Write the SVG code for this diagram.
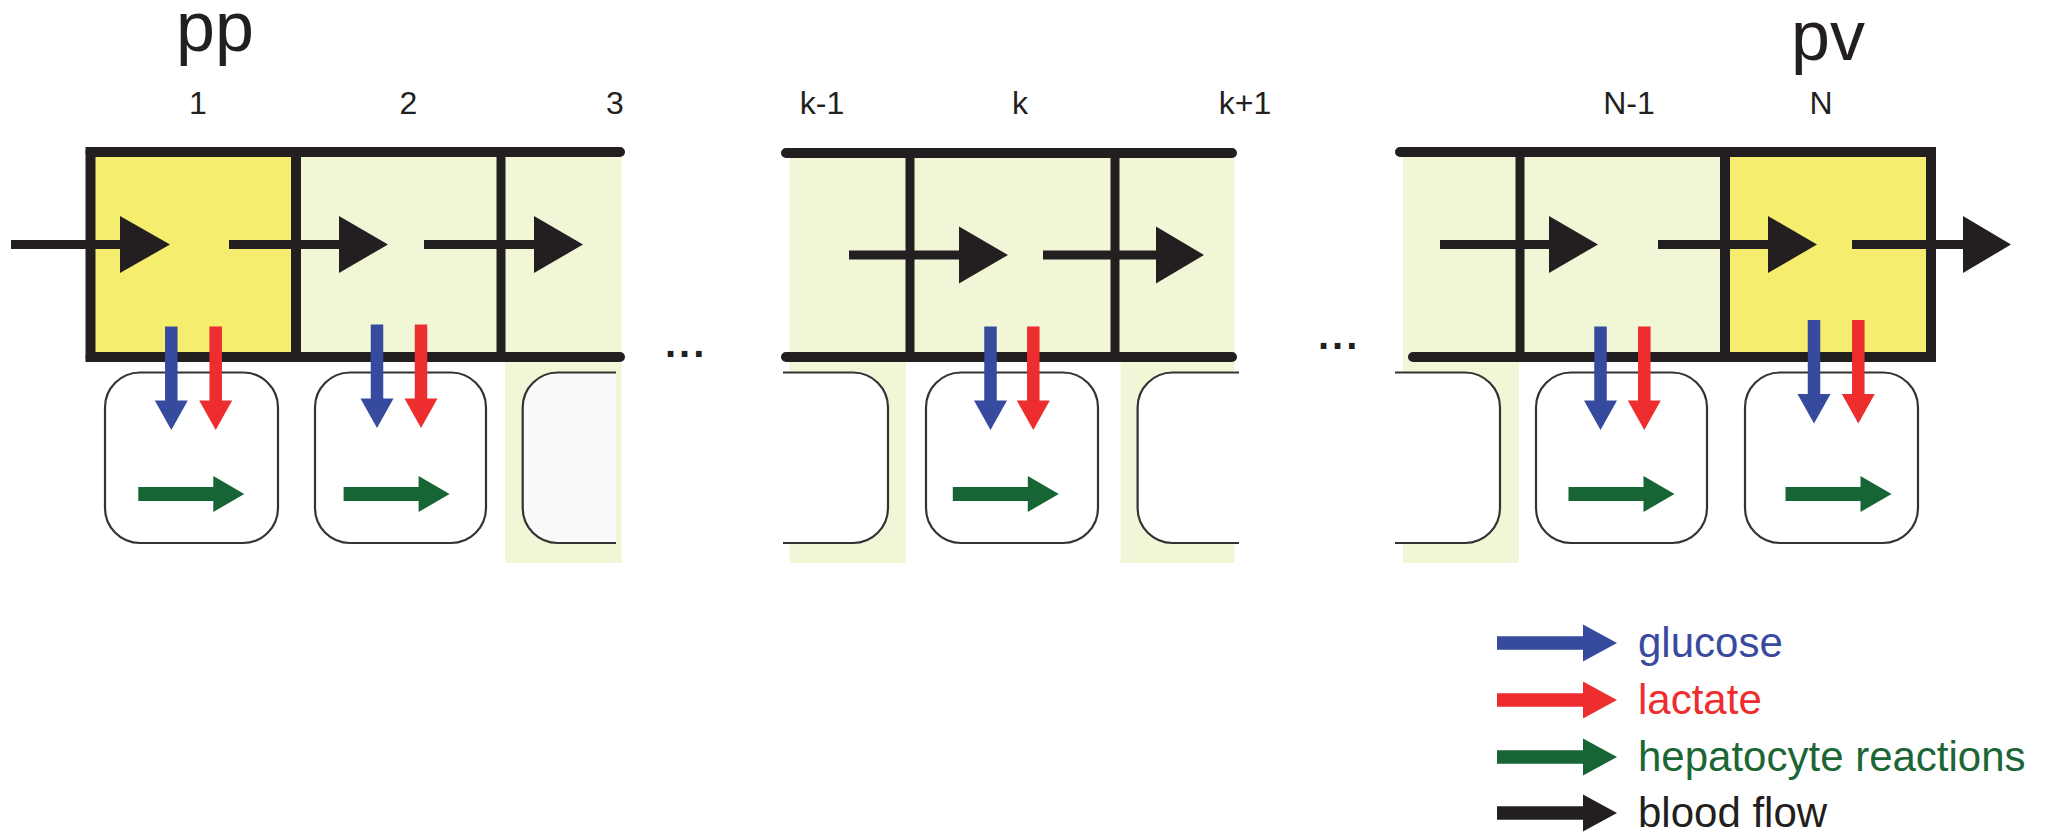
<svg xmlns="http://www.w3.org/2000/svg" xmlns:xlink="http://www.w3.org/1999/xlink" width="2047" height="834" viewBox="0 0 2047 834">
<style>
.yel{fill:#f4ed6d}
.lg{fill:#f1f6d7}
.wall{stroke:#231f20;stroke-width:10;stroke-linecap:round;fill:none}
.div{stroke:#231f20;stroke-width:9;fill:none}
.box{stroke:#231f20;stroke-width:10;fill:none}
.cell{fill:#fff;stroke:#333;stroke-width:2.2}
.flow{fill:#231f20}
.glu{fill:#364a9e}
.lac{fill:#ee2d2e}
.hep{fill:#176535}
.num{font-family:"Liberation Sans",Arial,sans-serif;font-size:32px;fill:#231f20;text-anchor:middle}
.big{font-family:"Liberation Sans",Arial,sans-serif;font-size:70px;fill:#231f20;text-anchor:middle}
.dots{font-family:"Liberation Sans",Arial,sans-serif;font-size:40px;font-weight:bold;fill:#231f20;letter-spacing:3px}
.leg{font-family:"Liberation Sans",Arial,sans-serif;font-size:42px}
</style>
<defs>
<path id="down" d="M-6.25 0 H6.25 V74 H16.5 L0 103.5 L-16.5 74 H-6.25 Z"/>
<path id="right" d="M0 -7 H75 V-18 L106 0 L75 18 V7 H0 Z"/>
<path id="legarrow" d="M0 -6.75 H86 V-18.5 L120 0 L86 18.5 V6.75 H0 Z"/>
</defs>

<!-- segment 1: sinusoid units 1, 2, 3 -->
<g id="segment-pp">
<rect class="yel" x="90.5" y="152" width="205.5" height="205"/>
<rect class="lg" x="296" y="152" width="325.7" height="205"/>
<rect class="lg" x="505" y="357" width="116.7" height="206"/>
<path class="wall" d="M90.5 152 H620 M90.5 357 H620"/>
<rect class="box" x="90.5" y="152" width="205.5" height="205"/>
<path class="div" d="M501 152 V357"/>
</g>

<!-- segment 2: units k-1, k, k+1 -->
<g id="segment-k">
<rect class="lg" x="789.5" y="153" width="445.2" height="204"/>
<rect class="lg" x="789.5" y="357" width="116.3" height="206"/>
<rect class="lg" x="1120.6" y="357" width="114.1" height="206"/>
<path class="wall" d="M786 153 H1232 M786 357 H1232"/>
<path class="div" d="M910 153 V357 M1115 153 V357"/>
</g>

<!-- segment 3: units N-1, N -->
<g id="segment-pv">
<rect class="lg" x="1403" y="152" width="322" height="205"/>
<rect class="lg" x="1403" y="357" width="116" height="206"/>
<rect class="yel" x="1725" y="152" width="206" height="205"/>
<path class="wall" d="M1400 152 H1931 M1413 357 H1931"/>
<rect class="box" x="1725" y="152" width="206" height="205"/>
<path class="div" d="M1520 152 V357"/>
</g>

<!-- hepatocytes -->
<g id="cell-1"><rect class="cell" x="105" y="372.5" width="173" height="170.5" rx="35"/></g>
<g id="cell-2"><rect class="cell" x="315" y="372.5" width="171" height="170.5" rx="35"/></g>
<g id="cell-3"><path class="cell" style="fill:#fafafa" d="M616 372.5 H557.7 A35 35 0 0 0 522.7 407.5 V508 A35 35 0 0 0 557.7 543 H616"/></g>
<g id="cell-k-1"><path class="cell" d="M783 372.5 H853 A35 35 0 0 1 888 407.5 V508 A35 35 0 0 1 853 543 H783"/></g>
<g id="cell-k"><rect class="cell" x="926" y="372.5" width="172" height="170.5" rx="35"/></g>
<g id="cell-k+1"><path class="cell" d="M1239 372.5 H1172.6 A35 35 0 0 0 1137.6 407.5 V508 A35 35 0 0 0 1172.6 543 H1239"/></g>
<g id="cell-N-2"><path class="cell" d="M1395 372.5 H1465 A35 35 0 0 1 1500 407.5 V508 A35 35 0 0 1 1465 543 H1395"/></g>
<g id="cell-N-1"><rect class="cell" x="1536" y="372.5" width="171" height="170.5" rx="35"/></g>
<g id="cell-N"><rect class="cell" x="1745" y="372.5" width="173" height="170.5" rx="35"/></g>

<!-- labels -->
<g id="labels">
<text class="big" x="215" y="51">pp</text>
<text class="big" x="1828" y="60">pv</text>
<text class="num" x="198" y="114">1</text>
<text class="num" x="408.5" y="114">2</text>
<text class="num" x="615" y="114">3</text>
<text class="num" x="822" y="114">k-1</text>
<text class="num" x="1020" y="114">k</text>
<text class="num" x="1245" y="114">k+1</text>
<text class="num" x="1629" y="114">N-1</text>
<text class="num" x="1821" y="114">N</text>
<text class="dots" x="665" y="357">...</text>
<text class="dots" x="1318" y="349">...</text>
</g>

<!-- connectors -->
<g id="connectors">
<g id="blood-flow">
<path class="flow" d="M11 240 H120 V216 L170 244.5 L120 273 V249 H11 Z"/>
<path class="flow" d="M229 240 H339 V216 L388 244.5 L339 273 V249 H229 Z"/>
<path class="flow" d="M424 240 H534 V216 L583 244.5 L534 273 V249 H424 Z"/>
<path class="flow" d="M849 250.5 H959 V226.5 L1008 255 L959 283.5 V259.5 H849 Z"/>
<path class="flow" d="M1043 250.5 H1156 V226.5 L1204 255 L1156 283.5 V259.5 H1043 Z"/>
<path class="flow" d="M1440 240 H1549 V216 L1598 244.5 L1549 273 V249 H1440 Z"/>
<path class="flow" d="M1658 240 H1768 V216 L1817 244.5 L1768 273 V249 H1658 Z"/>
<path class="flow" d="M1852 240 H1963 V216 L2011 244.5 L1963 273 V249 H1852 Z"/>
</g>
<g id="uptake">
<use href="#down" xlink:href="#down" class="glu" x="171.3" y="326.5"/>
<use href="#down" xlink:href="#down" class="lac" x="215.7" y="326.5"/>
<use href="#down" xlink:href="#down" class="glu" x="377" y="324.5"/>
<use href="#down" xlink:href="#down" class="lac" x="421" y="324.5"/>
<use href="#down" xlink:href="#down" class="glu" x="990.5" y="326.5"/>
<use href="#down" xlink:href="#down" class="lac" x="1033.3" y="326.5"/>
<use href="#down" xlink:href="#down" class="glu" x="1600.5" y="326.5"/>
<use href="#down" xlink:href="#down" class="lac" x="1644.3" y="326.5"/>
<use href="#down" xlink:href="#down" class="glu" x="1814" y="320"/>
<use href="#down" xlink:href="#down" class="lac" x="1858.3" y="320"/>
</g>
<g id="reactions">
<use href="#right" xlink:href="#right" class="hep" x="138.3" y="494"/>
<use href="#right" xlink:href="#right" class="hep" x="343.6" y="494"/>
<use href="#right" xlink:href="#right" class="hep" x="952.8" y="494"/>
<use href="#right" xlink:href="#right" class="hep" x="1568.5" y="494"/>
<use href="#right" xlink:href="#right" class="hep" x="1785.5" y="494"/>
</g>
</g>

<!-- legend -->
<g id="legend">
<use href="#legarrow" xlink:href="#legarrow" class="glu" x="1497" y="643"/>
<use href="#legarrow" xlink:href="#legarrow" class="lac" x="1497" y="700"/>
<use href="#legarrow" xlink:href="#legarrow" class="hep" x="1497" y="757"/>
<use href="#legarrow" xlink:href="#legarrow" class="flow" x="1497" y="813"/>
<text class="leg" x="1638" y="657" fill="#3a4aa0">glucose</text>
<text class="leg" x="1638" y="714" fill="#ee2d2e">lactate</text>
<text class="leg" x="1638" y="771" fill="#1b6634">hepatocyte reactions</text>
<text class="leg" x="1638" y="827" fill="#231f20">blood flow</text>
</g>
</svg>
